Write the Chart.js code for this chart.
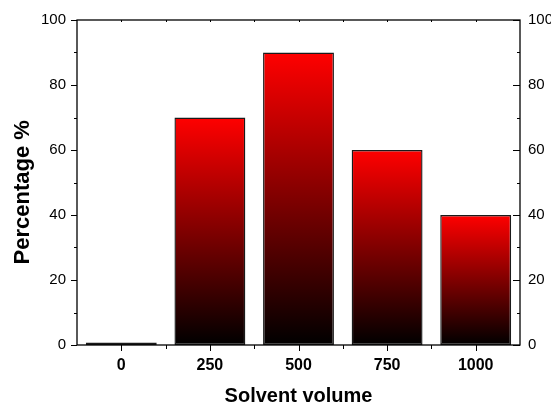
<!DOCTYPE html>
<html>
<head>
<meta charset="utf-8">
<script src="https://cdn.jsdelivr.net/npm/chart.js@4/dist/chart.umd.min.js"></script>
<style>
  html, body { margin: 0; padding: 0; background: #fff; }
  #box { width: 551px; height: 408px; }
</style>
</head>
<body>
<div id="box"><canvas id="barChart"></canvas></div>
<script>
const volumes = ['0', '250', '500', '750', '1000']
const percentage = [0.8, 70, 90, 60, 40]
const yTicks = [0, 20, 40, 60, 80, 100]
const yTitle = 'Percentage %'

const ctx = document.getElementById('barChart').getContext('2d')

function barGradient(c) {
  const { chart, raw } = c
  const y = chart.scales && chart.scales.y
  if (!y || raw == null) return '#ff0000'
  const top = y.getPixelForValue(raw)
  const base = y.getPixelForValue(0)
  if (!isFinite(top) || !isFinite(base) || top === base) return '#ff0000'
  const g = chart.ctx.createLinearGradient(0, top, 0, base)
  g.addColorStop(0, '#ff0000')
  g.addColorStop(1, '#000000')
  return g
}

// frame + major/minor tick marks, placed from the scales
const frameTicks = {
  id: 'frameTicks',
  afterDatasetsDraw(chart) {
    const { ctx: c, chartArea: a, scales } = chart
    const x = scales.x
    const y = scales.y
    c.save()
    c.strokeStyle = '#000'
    c.lineWidth = 1.3
    c.strokeRect(a.left, a.top, a.right - a.left, a.bottom - a.top)
    c.lineWidth = 1
    c.beginPath()
    // y ticks every 10, majors every 20
    for (let v = 0; v <= 100; v += 10) {
      const py = Math.round(y.getPixelForValue(v)) + 0.5
      const major = v % 20 === 0
      c.moveTo(a.left - (major ? 6 : 3), py)
      c.lineTo(a.left, py)
      c.moveTo(a.right - (major ? 7 : 3), py)
      c.lineTo(a.right, py)
    }
    // x ticks: centers major, boundaries minor
    const half = (x.getPixelForValue(1) - x.getPixelForValue(0)) / 2
    volumes.forEach((_, i) => {
      const px = Math.round(x.getPixelForValue(i)) + 0.5
      c.moveTo(px, a.bottom)
      c.lineTo(px, a.bottom + 6)
      c.moveTo(px, a.top)
      c.lineTo(px, a.top + 2)
      if (i < volumes.length - 1) {
        const bx = Math.round(x.getPixelForValue(i) + half) + 0.5
        c.moveTo(bx, a.bottom)
        c.lineTo(bx, a.bottom + 4)
        c.moveTo(bx, a.top)
        c.lineTo(bx, a.top + 2)
      }
    })
    c.stroke()

    // y title sits a bit below the plot middle, as in the original
    c.translate(23, y.getPixelForValue(47))
    c.rotate(-Math.PI / 2)
    c.fillStyle = '#000'
    c.font = 'bold 22px "Liberation Sans", Arial, sans-serif'
    c.textAlign = 'center'
    c.textBaseline = 'middle'
    c.fillText(yTitle, 0, 0)
    c.restore()
  }
}

const chart = new Chart(ctx, {
  type: 'bar',
  data: {
    labels: volumes,
    datasets: [
      {
        label: 'Percentage',
        data: percentage,
        backgroundColor: barGradient,
        borderColor: '#1a1a1a',
        borderWidth: 1.4,
        borderSkipped: false,
        barPercentage: 0.8,
        categoryPercentage: 1.0,
        yAxisID: 'y'
      }
    ]
  },
  options: {
    responsive: true,
    maintainAspectRatio: false,
    animation: false,
    layout: { padding: { top: 18, left: 0, right: 0, bottom: 0 } },
    plugins: {
      legend: { display: false },
      tooltip: { enabled: false }
    },
    scales: {
      x: {
        type: 'category',
        offset: true,
        grid: { display: false, drawTicks: false },
        border: { display: false },
        ticks: {
          color: '#000',
          padding: 11,
          maxRotation: 0,
          font: { family: 'Liberation Sans, Arial, sans-serif', size: 16, weight: 'bold' }
        },
        title: {
          display: true,
          text: 'Solvent volume',
          color: '#000',
          padding: { top: 0, bottom: 0 },
          font: { family: 'Liberation Sans, Arial, sans-serif', size: 20, weight: 'bold' }
        },
        afterFit(s) { s.height = 63 }
      },
      y: {
        position: 'left',
        min: 0,
        max: 100,
        afterBuildTicks(s) { s.ticks = yTicks.map((v) => ({ value: v })) },
        grid: { display: false, drawTicks: false },
        border: { display: false },
        ticks: {
          color: '#000',
          padding: 11,
          font: { family: 'Liberation Sans, Arial, sans-serif', size: 15 }
        },
        afterFit(s) { s.width = 77 }
      },
      y2: {
        position: 'right',
        min: 0,
        max: 100,
        afterBuildTicks(s) { s.ticks = yTicks.map((v) => ({ value: v })) },
        grid: { display: false, drawTicks: false },
        border: { display: false },
        ticks: {
          color: '#000',
          padding: 8,
          font: { family: 'Liberation Sans, Arial, sans-serif', size: 15 }
        },
        afterFit(s) { s.width = 31 }
      }
    }
  },
  plugins: [frameTicks]
})
</script>
</body>
</html>
